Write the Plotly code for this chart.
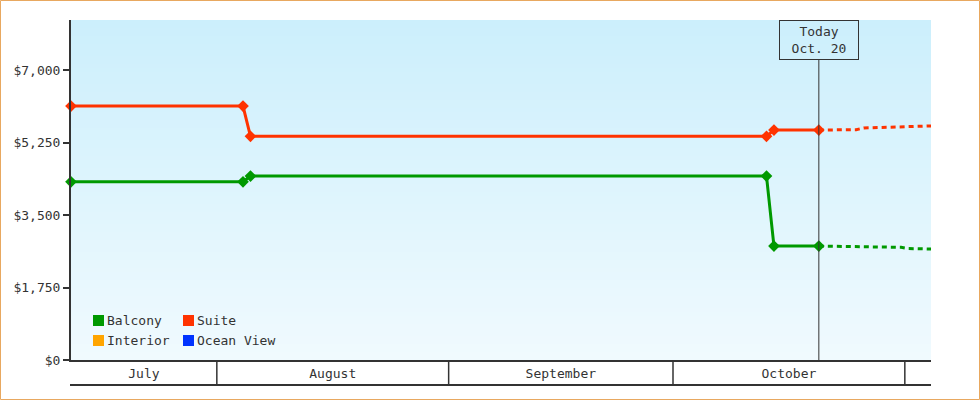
import plotly.graph_objects as go
import pandas as pd

# ---------------- data ----------------
suite_dates = ["2015-07-12 12:00", "2015-08-04 12:00", "2015-08-05 12:00",
               "2015-10-13 12:00", "2015-10-14 12:00", "2015-10-20 12:00"]
suite_prices = [6130, 6130, 5400, 5400, 5550, 5550]
suite_fc_dates = ["2015-10-20 12:00", "2015-10-25 12:00", "2015-10-26 12:00", "2015-11-04 12:00"]
suite_fc_prices = [5550, 5560, 5600, 5650]

balcony_dates = ["2015-07-12 12:00", "2015-08-04 12:00", "2015-08-05 12:00",
                 "2015-10-13 12:00", "2015-10-14 12:00", "2015-10-20 12:00"]
balcony_prices = [4300, 4300, 4440, 4440, 2750, 2750]
balcony_fc_dates = ["2015-10-20 12:00", "2015-10-31 12:00", "2015-11-01 12:00", "2015-11-04 12:00"]
balcony_fc_prices = [2750, 2720, 2690, 2680]

legend_names = ["Balcony", "Suite", "Interior", "Ocean View"]
legend_colors = ["#009900", "#ff3300", "#ffa500", "#0033ff"]

month_names = ["July", "August", "September", "October", "November"]
month_starts = ["2015-07-01", "2015-08-01", "2015-09-01", "2015-10-01", "2015-11-01", "2015-12-01"]

y_ticks = [0, 1750, 3500, 5250, 7000]
y_tick_text = ["$0", "$1,750", "$3,500", "$5,250", "$7,000"]

today = "2015-10-20 12:00"
today_text = "Today<br>Oct. 20"

x_range = ["2015-07-12 12:00", "2015-11-04 12:00"]
y_range = [0, 8207]

# ---------------- layout constants ----------------
W, H = 980, 400
ML, MR, MT, MB = 71, 49, 20, 40
PW, PH = W - ML - MR, H - MT - MB
FONT = "DejaVu Sans Mono"
TXT = "#333333"

def px_x(p):
    return (p - ML) / PW

def px_y(p):
    return (H - MB - p) / PH

fig = go.Figure()

# main series
fig.add_trace(go.Scatter(x=suite_dates, y=suite_prices, mode="lines+markers",
                         line=dict(color=legend_colors[1], width=3),
                         marker=dict(symbol="diamond", size=9, color=legend_colors[1]),
                         cliponaxis=False, showlegend=False, name="Suite"))
fig.add_trace(go.Scatter(x=suite_fc_dates, y=suite_fc_prices, mode="lines",
                         line=dict(color=legend_colors[1], width=3, dash="5px,4px"),
                         cliponaxis=False, showlegend=False, name="Suite forecast"))
fig.add_trace(go.Scatter(x=balcony_dates, y=balcony_prices, mode="lines+markers",
                         line=dict(color=legend_colors[0], width=3),
                         marker=dict(symbol="diamond", size=9, color=legend_colors[0]),
                         cliponaxis=False, showlegend=False, name="Balcony"))
fig.add_trace(go.Scatter(x=balcony_fc_dates, y=balcony_fc_prices, mode="lines",
                         line=dict(color=legend_colors[0], width=3, dash="5px,4px"),
                         cliponaxis=False, showlegend=False, name="Balcony forecast"))

shapes = []
# gradient background
N = 85
top = (204, 239, 252)
bot = (240, 250, 254)
for i in range(N):
    t = i / (N - 1)
    c = tuple(round(top[k] + (bot[k] - top[k]) * t) for k in range(3))
    shapes.append(dict(type="rect", xref="paper", yref="paper",
                       x0=0, x1=1, y0=1 - (i + 1) / N - 0.002, y1=1 - i / N,
                       fillcolor="rgb(%d,%d,%d)" % c, line=dict(width=0), layer="below"))

# month cell separators
xs0 = pd.Timestamp(x_range[0])
xs1 = pd.Timestamp(x_range[1])
month_ticks, month_labels = [], []
for i, name in enumerate(month_names):
    a = max(pd.Timestamp(month_starts[i]), xs0)
    b = min(pd.Timestamp(month_starts[i + 1]), xs1)
    if (b - a).days >= 10:
        month_ticks.append(a + (b - a) / 2)
        month_labels.append(name)
    s = pd.Timestamp(month_starts[i])
    if xs0 < s < xs1:
        shapes.append(dict(type="line", xref="x", yref="paper", x0=s, x1=s,
                           y0=0, y1=px_y(385), line=dict(color=TXT, width=1.5)))
# bottom line of month row
shapes.append(dict(type="line", xref="paper", yref="paper", x0=px_x(70), x1=1,
                   y0=px_y(385), y1=px_y(385), line=dict(color=TXT, width=2)))
# today line
shapes.append(dict(type="line", xref="x", yref="paper", x0=today, x1=today,
                   y0=0, y1=px_y(60), line=dict(color=TXT, width=1)))
# outer border
shapes.append(dict(type="rect", xref="paper", yref="paper",
                   x0=px_x(0.5), x1=px_x(W - 0.5), y0=px_y(0.5), y1=px_y(H - 0.5),
                   line=dict(color="#e8a860", width=1)))

annotations = []
# legend
leg_pos = [(93, 315), (183, 315), (93, 335), (183, 335)]
for (lx, ly), name, col in zip(leg_pos, legend_names, legend_colors):
    shapes.append(dict(type="rect", xref="paper", yref="paper",
                       x0=px_x(lx), x1=px_x(lx + 11), y0=px_y(ly + 11), y1=px_y(ly),
                       fillcolor=col, line=dict(width=0)))
    annotations.append(dict(xref="paper", yref="paper", x=px_x(lx + 12), y=px_y(ly + 5.5),
                            xanchor="left", yanchor="middle", showarrow=False,
                            text=name, font=dict(family=FONT, size=13, color=TXT)))

annotations.append(dict(xref="x", yref="paper", x=today, y=1, xanchor="center", yanchor="top",
                        showarrow=False, text=today_text, width=76, height=36,
                        bordercolor=TXT, borderwidth=1, borderpad=1,
                        font=dict(family=FONT, size=13, color=TXT)))

fig.update_layout(
    width=W, height=H,
    margin=dict(l=ML, r=MR, t=MT, b=MB, pad=0),
    paper_bgcolor="white", plot_bgcolor="rgba(0,0,0,0)",
    font=dict(family=FONT, size=13, color=TXT),
    shapes=shapes, annotations=annotations,
    showlegend=False,
    xaxis=dict(type="date", range=x_range, showgrid=False, zeroline=False,
               showline=True, linecolor=TXT, linewidth=2,
               tickvals=month_ticks, ticktext=month_labels, ticks="",
               tickfont=dict(family=FONT, size=13, color=TXT), fixedrange=True),
    yaxis=dict(range=y_range, showgrid=False, zeroline=False,
               showline=True, linecolor=TXT, linewidth=2,
               tickvals=y_ticks, ticktext=y_tick_text, ticks="outside",
               ticklen=6, tickwidth=2, tickcolor=TXT,
               tickfont=dict(family=FONT, size=13, color=TXT), fixedrange=True),
)

fig.write_html("out.html", config={"displayModeBar": False},
               post_script="document.body.style.margin='0px';")
